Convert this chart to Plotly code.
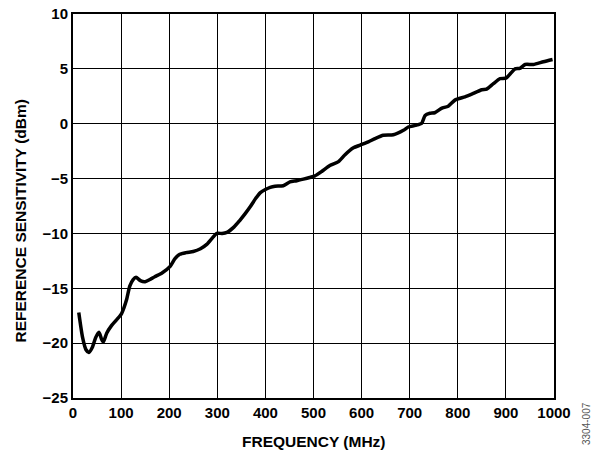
import plotly.graph_objects as go

freq_mhz = [12, 20, 27, 33, 40, 47, 54, 59, 63, 70, 80, 90, 101, 111, 118, 125, 131, 140, 150, 160,
            170, 185, 202, 212, 222, 235, 250, 265, 278, 290, 299, 310, 320, 335, 347, 358, 368, 380,
            389, 400, 410, 420, 437, 451, 465, 479, 492, 503, 517, 534, 552, 565, 583, 597, 614, 628,
            645, 666, 687, 697, 712, 725, 732, 742, 752, 766, 780, 794, 815, 829, 850, 860, 874, 888,
            900, 910, 919, 929, 940, 957, 978, 997]
sensitivity_dbm = [-17.2, -19.5, -20.6, -20.85, -20.4, -19.5, -19.0, -19.6, -19.9, -19.1, -18.4, -17.9,
                   -17.3, -16.1, -14.8, -14.2, -14.0, -14.3, -14.4, -14.2, -13.95, -13.6, -13.0, -12.3,
                   -11.9, -11.75, -11.65, -11.4, -11.0, -10.4, -10.0, -10.0, -9.9, -9.4, -8.8, -8.2,
                   -7.6, -6.8, -6.3, -6.0, -5.8, -5.7, -5.65, -5.3, -5.2, -5.05, -4.9, -4.75, -4.35,
                   -3.8, -3.45, -2.85, -2.2, -1.95, -1.65, -1.35, -1.05, -1.0, -0.6, -0.3, -0.15, 0.05,
                   0.75, 0.95, 1.0, 1.4, 1.6, 2.15, 2.45, 2.7, 3.1, 3.15, 3.65, 4.1, 4.15, 4.6, 5.0,
                   5.05, 5.4, 5.4, 5.65, 5.85]

x_ticks = [0, 100, 200, 300, 400, 500, 600, 700, 800, 900, 1000]
y_ticks = [-25, -20, -15, -10, -5, 0, 5, 10]
y_tick_text = ["\u221225", "\u221220", "\u221215", "\u221210", "\u22125", "0", "5", "10"]

x_title = "FREQUENCY (MHz)"
y_title = "REFERENCE SENSITIVITY (dBm)"
figure_id = "3304-007"

font_family = "Liberation Sans, Arial, sans-serif"

# plot area in pixels
L, R, T, B = 73, 554, 14, 398
W, H = 594, 452

fig = go.Figure()
fig.add_trace(go.Scatter(
    x=freq_mhz, y=sensitivity_dbm, mode="lines",
    line=dict(color="black", width=3.5, shape="spline", smoothing=0.6),
    showlegend=False, hoverinfo="skip",
))

fig.update_layout(
    width=W, height=H,
    margin=dict(l=L, r=W - R, t=T, b=H - B),
    paper_bgcolor="white", plot_bgcolor="white",
    font=dict(family=font_family, color="black", size=15),
    xaxis=dict(
        range=[0, 1000], tickvals=x_ticks, ticks="", showgrid=True, automargin=False,
        gridcolor="black", gridwidth=1.3, zeroline=False,
        showline=True, linecolor="black", linewidth=2, mirror=True,
        tickfont=dict(size=15, family=font_family, weight="bold"),
    ),
    yaxis=dict(
        range=[-25, 10], tickvals=y_ticks, ticktext=y_tick_text, ticks="", showgrid=True,
        automargin=False,
        gridcolor="black", gridwidth=1.3, zeroline=False,
        showline=True, linecolor="black", linewidth=2, mirror=True,
        tickfont=dict(size=15, family=font_family, weight="bold"),
    ),
)

def px_x(p):
    return (p - L) / (R - L)

def px_y(p):
    return (B - p) / (B - T)

fig.add_annotation(
    text="<b>" + x_title + "</b>", x=px_x(313.5), y=px_y(441.5), xref="paper", yref="paper",
    showarrow=False, xanchor="center", yanchor="middle",
    font=dict(size=15.5, family=font_family, color="black"),
)
fig.add_annotation(
    text="<b>" + y_title + "</b>", x=px_x(20), y=px_y(221.5), xref="paper", yref="paper",
    showarrow=False, xanchor="center", yanchor="middle", textangle=-90,
    font=dict(size=15.5, family=font_family, color="black"),
)
fig.add_annotation(
    text=figure_id, x=px_x(586), y=px_y(424), xref="paper", yref="paper",
    showarrow=False, textangle=-90, xanchor="center", yanchor="middle",
    font=dict(size=10, color="#555555", family=font_family),
)

fig.write_html("out.html")
